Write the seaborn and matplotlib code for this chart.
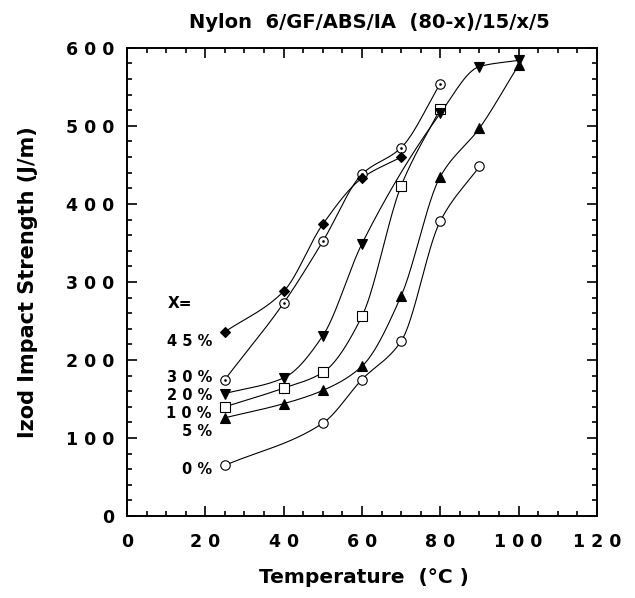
import numpy as np
import pandas as pd
import matplotlib
matplotlib.use("Agg")
import matplotlib.pyplot as plt
import seaborn as sns
from matplotlib.ticker import MultipleLocator, FixedLocator

# Izod impact strength (J/m) vs temperature (C), one series per ABS content x
temp_0 = [25, 50, 60, 70, 80, 90]
izod_0 = [65, 119, 175, 224, 378, 448]
temp_5 = [25, 40, 50, 60, 70, 80, 90, 100]
izod_5 = [126, 144, 161, 192, 282, 435, 497, 578]
temp_10 = [25, 40, 50, 60, 70, 80]
izod_10 = [140, 164, 184, 256, 423, 522]
temp_20 = [25, 40, 50, 60, 80, 90, 100]
izod_20 = [157, 177, 231, 349, 516, 576, 584]
temp_30 = [25, 40, 50, 60, 70, 80]
izod_30 = [175, 273, 352, 438, 472, 554]
temp_45 = [25, 40, 50, 60, 70]
izod_45 = [236, 288, 374, 433, 460]

series_labels = ["0 %", "5 %", "1 0 %", "2 0 %", "3 0 %", "4 5 %"]
x_ticklabels = ["0", "2 0", "4 0", "6 0", "8 0", "1 0 0", "1 2 0"]
y_ticklabels = ["0", "1 0 0", "2 0 0", "3 0 0", "4 0 0", "5 0 0", "6 0 0"]


def pchip(x, y, n=200):
    # monotone cubic curve through the measured points
    x = np.asarray(x, float)
    y = np.asarray(y, float)
    h = np.diff(x)
    d = np.diff(y) / h
    m = np.zeros_like(y)
    m[0], m[-1] = d[0], d[-1]
    for i in range(1, len(x) - 1):
        if d[i - 1] * d[i] > 0:
            w1 = 2 * h[i] + h[i - 1]
            w2 = h[i] + 2 * h[i - 1]
            m[i] = (w1 + w2) / (w1 / d[i - 1] + w2 / d[i])
    xs = np.linspace(x[0], x[-1], n)
    k = np.clip(np.searchsorted(x, xs) - 1, 0, len(x) - 2)
    t = (xs - x[k]) / h[k]
    h00 = 2 * t**3 - 3 * t**2 + 1
    h10 = t**3 - 2 * t**2 + t
    h01 = -2 * t**3 + 3 * t**2
    h11 = t**3 - t**2
    ys = h00 * y[k] + h10 * h[k] * m[k] + h01 * y[k + 1] + h11 * h[k] * m[k + 1]
    return xs, ys


data = [
    ("0", temp_0, izod_0, "o", "white"),
    ("5", temp_5, izod_5, "^", "black"),
    ("10", temp_10, izod_10, "s", "white"),
    ("20", temp_20, izod_20, "v", "black"),
    ("30", temp_30, izod_30, "o", "white"),
    ("45", temp_45, izod_45, "D", "black"),
]

curves = []
for name, tx, iy, _, _ in data:
    xs, ys = pchip(tx, iy)
    curves.append(pd.DataFrame({"temp": xs, "izod": ys, "x": name}))
curves = pd.concat(curves, ignore_index=True)

sns.set_style("ticks")
plt.rcParams["font.family"] = ["DejaVu Sans"]
plt.rcParams["font.weight"] = "bold"
plt.rcParams["text.color"] = "black"
plt.rcParams["axes.labelcolor"] = "black"
plt.rcParams["xtick.color"] = "black"
plt.rcParams["ytick.color"] = "black"

fig = plt.figure(figsize=(6.35, 5.98), dpi=100)
ax = fig.add_axes([0.2, 0.137, 0.740, 0.783])

sns.lineplot(data=curves, x="temp", y="izod", hue="x", units="x", estimator=None,
             palette=["black"] * 6, linewidth=0.8, legend=False, ax=ax, sort=False)

for name, tx, iy, mk, fc in data:
    ms = 5.5 if mk == "D" else 6.8
    ax.plot(tx, iy, linestyle="none", marker=mk, markersize=ms,
            markerfacecolor=fc, markeredgecolor="black", markeredgewidth=0.8)
    if name == "30":
        ax.plot(tx, iy, linestyle="none", marker=".", markersize=1.8, color="black")

# x = labels at the left end of each curve
ax.text(10.5, 272, "X=", fontsize=11, fontweight="bold", ha="left", va="center")
label_y = [60, 108, 132, 155, 178, 224]
for lab, ly in zip(series_labels, label_y):
    ax.text(21.7, ly, lab, fontsize=10.5, fontweight="bold", ha="right", va="center")

ax.set_xlim(0, 120)
ax.set_ylim(0, 600)
ax.xaxis.set_major_locator(FixedLocator([0, 20, 40, 60, 80, 100, 120]))
ax.yaxis.set_major_locator(FixedLocator([0, 100, 200, 300, 400, 500, 600]))
ax.set_xticklabels(x_ticklabels)
ax.set_yticklabels(y_ticklabels)
ax.xaxis.set_minor_locator(MultipleLocator(5))
ax.yaxis.set_minor_locator(MultipleLocator(20))
ax.tick_params(which="both", direction="in", top=True, right=True,
               labelsize=12.5, width=1.2, colors="black")
ax.tick_params(axis="x", pad=12)
ax.tick_params(axis="y", pad=9)
ax.tick_params(which="major", length=7)
ax.tick_params(which="minor", length=3.5)
for lab in ax.get_xticklabels() + ax.get_yticklabels():
    lab.set_fontweight("bold")
for sp in ax.spines.values():
    sp.set_linewidth(1.4)
    sp.set_color("black")

ax.set_xlabel("Temperature  (°C )", fontsize=14.5, fontweight="bold", color="black")
ax.xaxis.set_label_coords(0.504, -0.11)
ax.set_ylabel("Izod Impact Strength (J/m)", fontsize=15, fontweight="bold", color="black")
ax.yaxis.set_label_coords(-0.19, 0.5)
ax.set_title("Nylon  6/GF/ABS/IA  (80-x)/15/x/5", fontsize=14, fontweight="bold",
             x=0.515, pad=14, color="black")

fig.savefig("out.png", dpi=100)
